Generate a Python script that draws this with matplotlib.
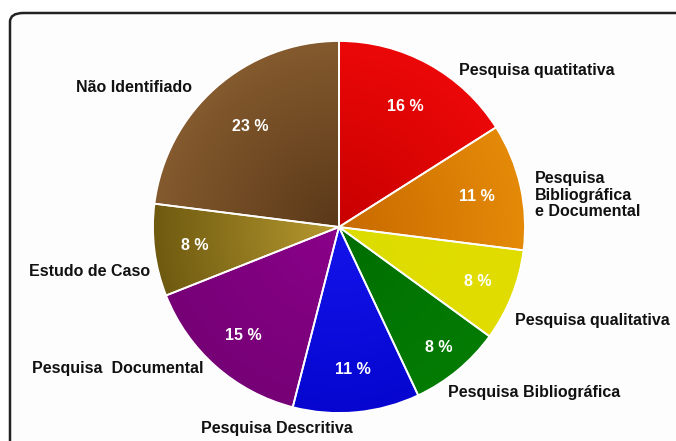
import numpy as np
import matplotlib.pyplot as plt
from matplotlib.patches import FancyBboxPatch
from matplotlib.colors import to_rgb
from matplotlib import font_manager

# data, clockwise from 12 o'clock
labels = ['Pesquisa quatitativa', 'Pesquisa\nBibliográfica\ne Documental', 'Pesquisa qualitativa',
          'Pesquisa Bibliográfica', 'Pesquisa Descritiva', 'Pesquisa  Documental',
          'Estudo de Caso', 'Não Identifiado']
values = [16, 11, 8, 8, 11, 15, 8, 23]
# centre colour, rim colour for each slice
inner_colors = ['#c80000', '#c86a00', '#dcdc00', '#006e00', '#1414ec', '#8a008a', '#b89a30', '#5a3818']
outer_colors = ['#ec0808', '#e48a08', '#e2dc00', '#047c04', '#0606d0', '#760076', '#6e5a10', '#845a2e']

# percent label distance from centre (fraction of radius) per slice
pct_dist = [0.74, 0.76, 0.8, 0.84, 0.77, 0.78, 0.78, 0.72]
# outer label placement in pixels (x, y from top), horizontal alignment
label_pos = [(459, 71, 'left'), (535, 195, 'left'), (515, 321, 'left'), (448, 393, 'left'),
             (277, 428, 'center'), (203, 368, 'right'), (150, 272, 'right'), (192, 88, 'right')]

W, H = 676, 441
names = {f.name for f in font_manager.fontManager.ttflist}
fam = 'Liberation Sans Narrow' if 'Liberation Sans Narrow' in names else 'Liberation Sans'
plt.rcParams['font.family'] = [fam, 'DejaVu Sans']

fig = plt.figure(figsize=(W / 100, H / 100), dpi=100)
fig.patch.set_facecolor('white')

# rounded frame with soft shadow
for k, a in [(3, 0.08), (2, 0.12), (1, 0.18)]:
    fig.patches.append(FancyBboxPatch((10 / W + k / W, -0.05), 1.05, 1 - 13 / H - k / H + 0.05,
                                      boxstyle='round,pad=0,rounding_size=0.02', transform=fig.transFigure,
                                      facecolor='none', edgecolor='black', alpha=a, lw=2.5, zorder=-2))
fig.patches.append(FancyBboxPatch((10 / W, -0.05), 1.05, 1 - 13 / H + 0.05,
                                  boxstyle='round,pad=0,rounding_size=0.02', transform=fig.transFigure,
                                  facecolor='#fdfdfd', edgecolor='#222222', lw=1.8, zorder=-1))

ax = fig.add_axes([0, 0, 1, 1])
ax.set_facecolor('none')
ax.axis('off')
cx, cy, r = 339, 227, 186

wedges, texts, autotexts = ax.pie(values, colors=outer_colors, startangle=90, counterclock=False,
                                  autopct='%d %%', pctdistance=0.78,
                                  wedgeprops=dict(edgecolor='white', linewidth=1.3),
                                  textprops=dict(color='white', fontsize=11.5, fontweight='bold'))

# radial shading inside every slice
g = np.linspace(-1, 1, 400)
gx, gy = np.meshgrid(g, g)
rad = np.clip(np.hypot(gx, gy), 0, 1)[..., None]
for w, c0, c1 in zip(wedges, inner_colors, outer_colors):
    img = np.array(to_rgb(c0)) * (1 - rad) + np.array(to_rgb(c1)) * rad
    im = ax.imshow(img, extent=(-1, 1, -1, 1), origin='lower', zorder=1, interpolation='bilinear')
    im.set_clip_path(w)
    w.set_facecolor('none')
    w.set_zorder(2)

for w, t, d in zip(wedges, autotexts, pct_dist):
    mid = np.deg2rad((w.theta1 + w.theta2) / 2)
    t.set_position((d * np.cos(mid), d * np.sin(mid)))
    t.set_zorder(5)

ax.set_aspect('auto')
ax.set_xlim(-cx / r, (W - cx) / r)
ax.set_ylim(-(H - cy) / r, cy / r)

for lab, (px, py, ha) in zip(labels, label_pos):
    fig.text(px / W, 1 - py / H, lab, ha=ha, va='center', fontsize=11.5, fontweight='bold',
             color='#111111', linespacing=1.1)

fig.savefig('out.png', dpi=100)
